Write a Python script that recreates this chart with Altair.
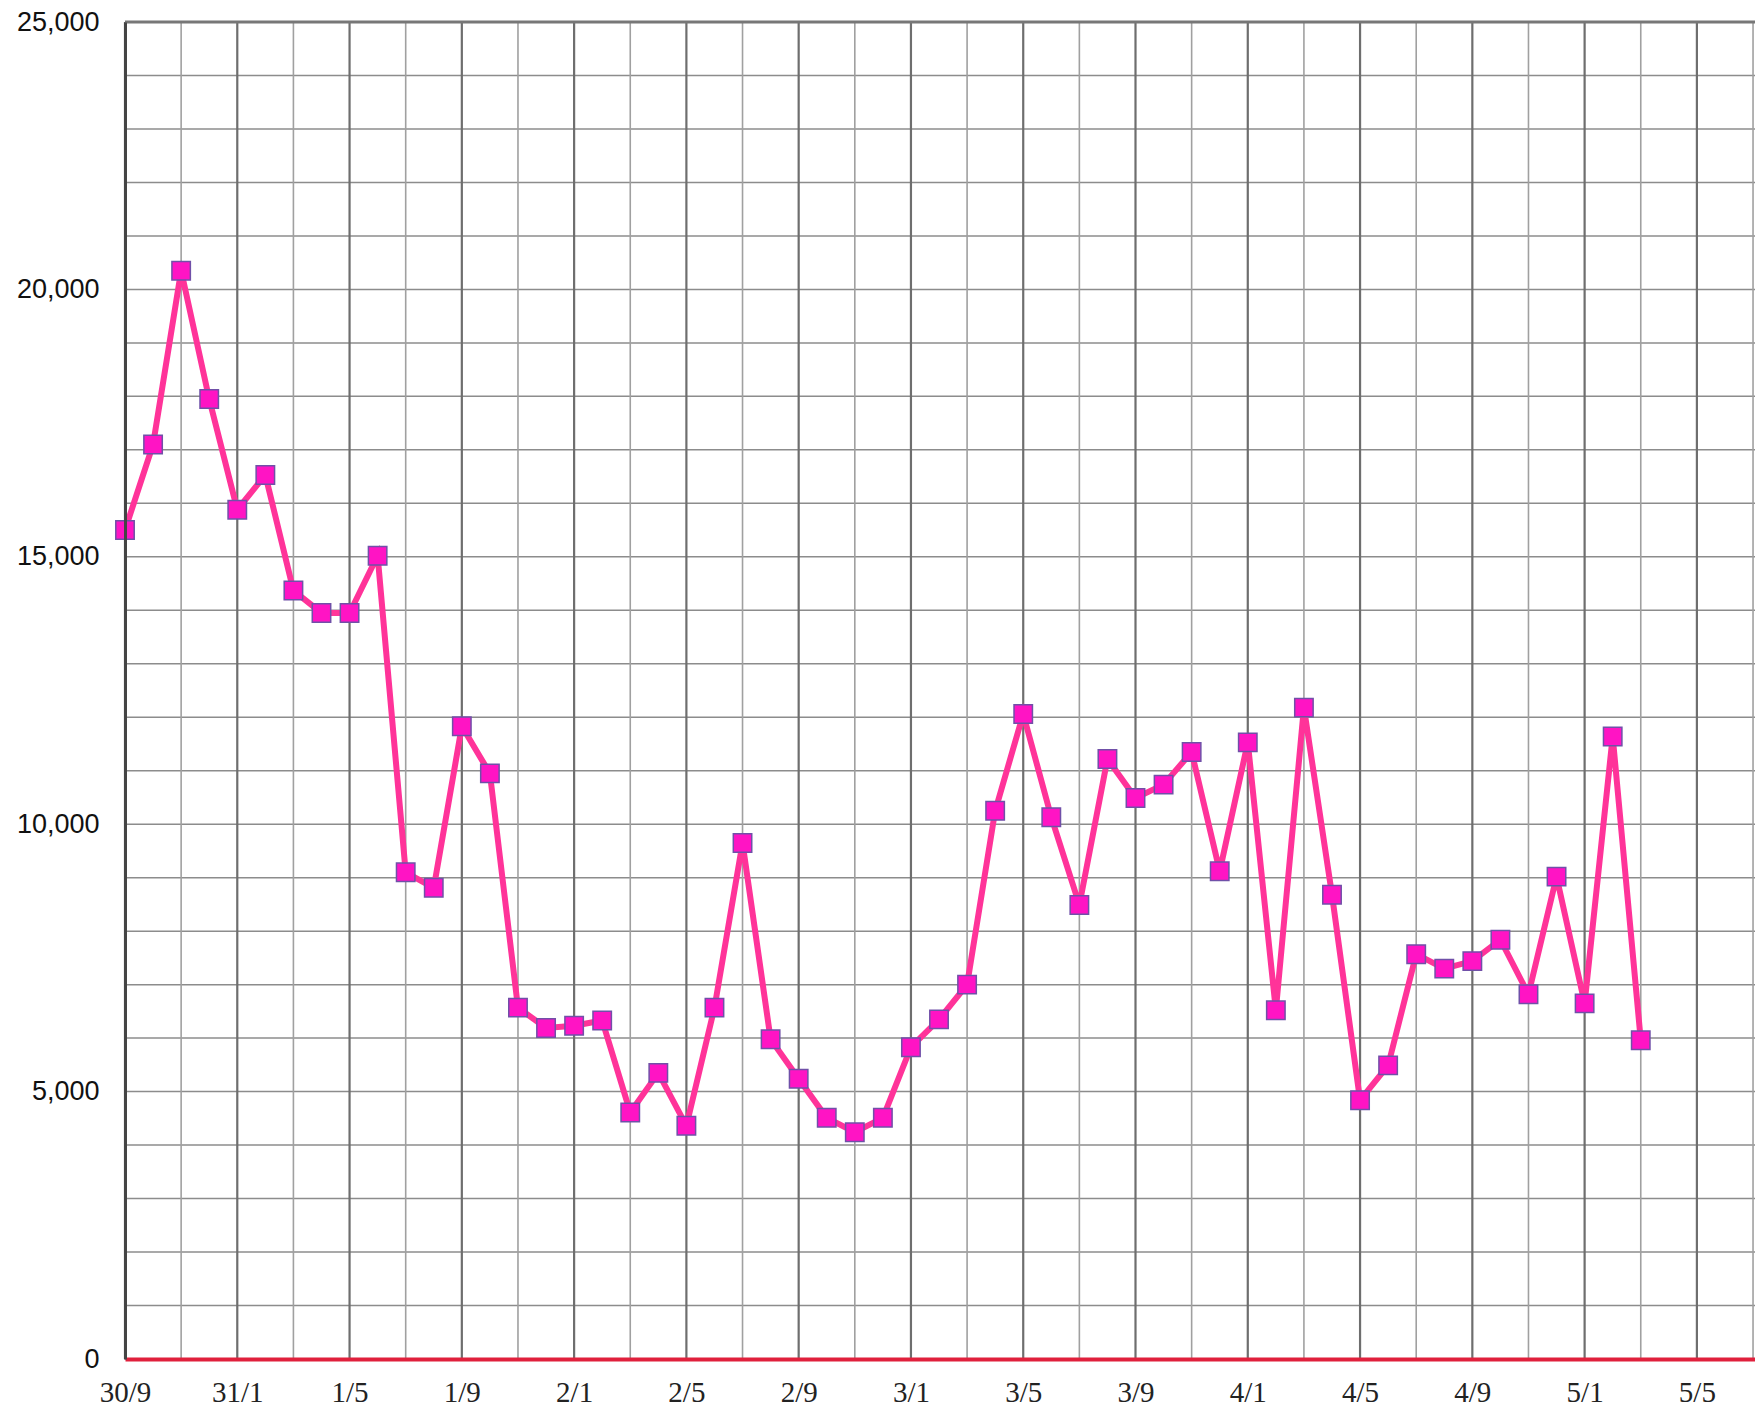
import altair as alt
import pandas as pd

# ---- data ----
values = [15500, 17100, 20350, 17950, 15880, 16530, 14370, 13950, 13950, 15020,
          9100, 8810, 11830, 10950, 6570, 6190, 6230, 6330, 4610, 5350,
          4360, 6570, 9650, 5980, 5240, 4510, 4240, 4510, 5830, 6350,
          7000, 10250, 12060, 10130, 8490, 11220, 10490, 10740, 11350, 9120,
          11530, 6520, 12180, 8680, 4840, 5490, 7570, 7300, 7440, 7840,
          6820, 9020, 6650, 11640, 5960]
x_labels = ["30/9", "31/1", "1/5", "1/9", "2/1", "2/5", "2/9", "3/1",
            "3/5", "3/9", "4/1", "4/5", "4/9", "5/1", "5/5"]
label_step = 4
minor_step = 2
y_ticks = [0, 5000, 10000, 15000, 20000, 25000]
y_grid_step = 1000
y_max = 25000
x_max = 58.07

df = pd.DataFrame({"i": list(range(len(values))), "v": values})
major_pos = [k * label_step for k in range(len(x_labels))]
minor_pos = [p + minor_step for p in major_pos] + [major_pos[-1] + minor_step]
minor_pos = sorted(set(p for p in minor_pos if p <= x_max))
hgrid = list(range(0, y_max + 1, y_grid_step))

xs = alt.Scale(domain=[0, x_max], nice=False, zero=False)
ys = alt.Scale(domain=[0, y_max], nice=False)

label_expr = "[" + ",".join(f"'{l}'" for l in x_labels) + "][round(datum.value/%d)]" % label_step

x_axis = alt.Axis(values=major_pos, labelExpr=label_expr, grid=False, ticks=False,
                  domainColor="#E0203C", domainWidth=4, labelPadding=19,
                  labelFont="Liberation Serif", labelFontSize=29, labelColor="#222222",
                  labelFlush=False, labelOverlap=False, title=None, zindex=1)
y_axis = alt.Axis(values=y_ticks, labelExpr="format(datum.value, ',')", grid=False, ticks=False,
                  domainColor="#444444", domainWidth=3, labelPadding=26,
                  labelFont="Liberation Sans", labelFontSize=27, labelColor="#111111",
                  labelFlush=False, labelOverlap=False, title=None, zindex=1)

h = alt.Chart(pd.DataFrame({"y": hgrid})).mark_rule(color="#8c8c8c", strokeWidth=1.5).encode(
    y=alt.Y("y:Q", scale=ys, axis=y_axis))
vmin = alt.Chart(pd.DataFrame({"x": minor_pos})).mark_rule(color="#a0a0a0", strokeWidth=1.6).encode(
    x=alt.X("x:Q", scale=xs, axis=x_axis))
vmaj = alt.Chart(pd.DataFrame({"x": major_pos})).mark_rule(color="#6e6e6e", strokeWidth=2.2).encode(
    x=alt.X("x:Q", scale=xs, axis=x_axis))
top = alt.Chart(pd.DataFrame({"y": [y_max]})).mark_rule(color="#777777", strokeWidth=3).encode(
    y=alt.Y("y:Q", scale=ys, axis=y_axis))

line = alt.Chart(df).mark_line(color="#FF3399", strokeWidth=6).encode(
    x=alt.X("i:Q", scale=xs, axis=x_axis),
    y=alt.Y("v:Q", scale=ys, axis=y_axis))
pts = alt.Chart(df).mark_square(size=340, fill="#FF14C4", stroke="#7050A8",
                                strokeWidth=1.5, opacity=1).encode(
    x=alt.X("i:Q", scale=xs, axis=x_axis), y=alt.Y("v:Q", scale=ys, axis=y_axis))

chart = alt.layer(h, vmin, vmaj, top, line, pts).properties(
    width=1630, height=1337,
    autosize=alt.AutoSizeParams(type="none"),
    padding={"left": 117, "top": 14, "right": 0, "bottom": 50},
    background="white",
).configure_view(stroke=None)

chart.save("out.html", embed_options={"renderer": "svg", "actions": False})
